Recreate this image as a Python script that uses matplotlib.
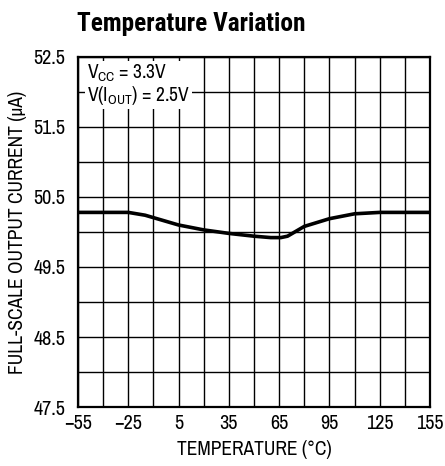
import matplotlib.pyplot as plt

plt.rcParams['font.family'] = ['Archivo Narrow', 'Liberation Sans', 'DejaVu Sans']
plt.rcParams['mathtext.fontset'] = 'custom'
plt.rcParams['mathtext.rm'] = 'Archivo Narrow'

temps = [-55, -40, -25, -15, -5, 5, 20, 35, 50, 60, 66, 70, 75, 80, 95, 110, 125, 140, 155]
current = [50.28, 50.28, 50.28, 50.24, 50.17, 50.10, 50.03, 49.98, 49.94, 49.92, 49.92, 49.94, 50.01, 50.08, 50.19, 50.26, 50.28, 50.28, 50.28]

xticks = [-55, -25, 5, 35, 65, 95, 125, 155]
yticks = [47.5, 48.5, 49.5, 50.5, 51.5, 52.5]

fig = plt.figure(figsize=(4.45, 4.66), dpi=100)
ax = fig.add_axes([0.1753, 0.1266, 0.7910, 0.7511])

ax.plot(temps, current, color='black', lw=2.6, solid_capstyle='round', zorder=3)

ax.set_xlim(-55, 155)
ax.set_ylim(47.5, 52.5)
ax.set_xticks(xticks)
ax.set_xticklabels([str(t).replace('-', '\u2212') for t in xticks])
ax.set_yticks(yticks)
ax.set_yticklabels(['%.1f' % v for v in yticks])
ax.set_xticks(range(-55, 156, 15), minor=True)
ax.set_yticks([47.5 + 0.5 * i for i in range(11)], minor=True)
ax.grid(which='both', color='black', lw=1.0, zorder=1)
ax.tick_params(which='both', length=0, labelsize=14.5)
ax.tick_params(axis='y', pad=9)
ax.tick_params(axis='x', pad=5)
for s in ax.spines.values():
    s.set_linewidth(1.6)

ax.set_xlabel('TEMPERATURE (\u00b0C)', fontsize=14, labelpad=5)
ax.set_ylabel('FULL-SCALE OUTPUT CURRENT (\u03bcA)', fontsize=14, labelpad=5)

ax.text(0.025, 0.985, '$\\mathregular{V_{CC}}$ = 3.3V\n$\\mathregular{V(I_{OUT})}$ = 2.5V',
        transform=ax.transAxes, fontsize=14, va='top', ha='left', linespacing=1.0,
        bbox=dict(facecolor='white', edgecolor='none', pad=1.5), zorder=4)

fig.text(0.173, 0.933, 'Temperature Variation', fontsize=18.3, fontweight='bold', ha='left',
         family=['Roboto Condensed', 'Barlow Semi Condensed', 'Liberation Sans', 'DejaVu Sans'])

fig.savefig('out.png', dpi=100)
